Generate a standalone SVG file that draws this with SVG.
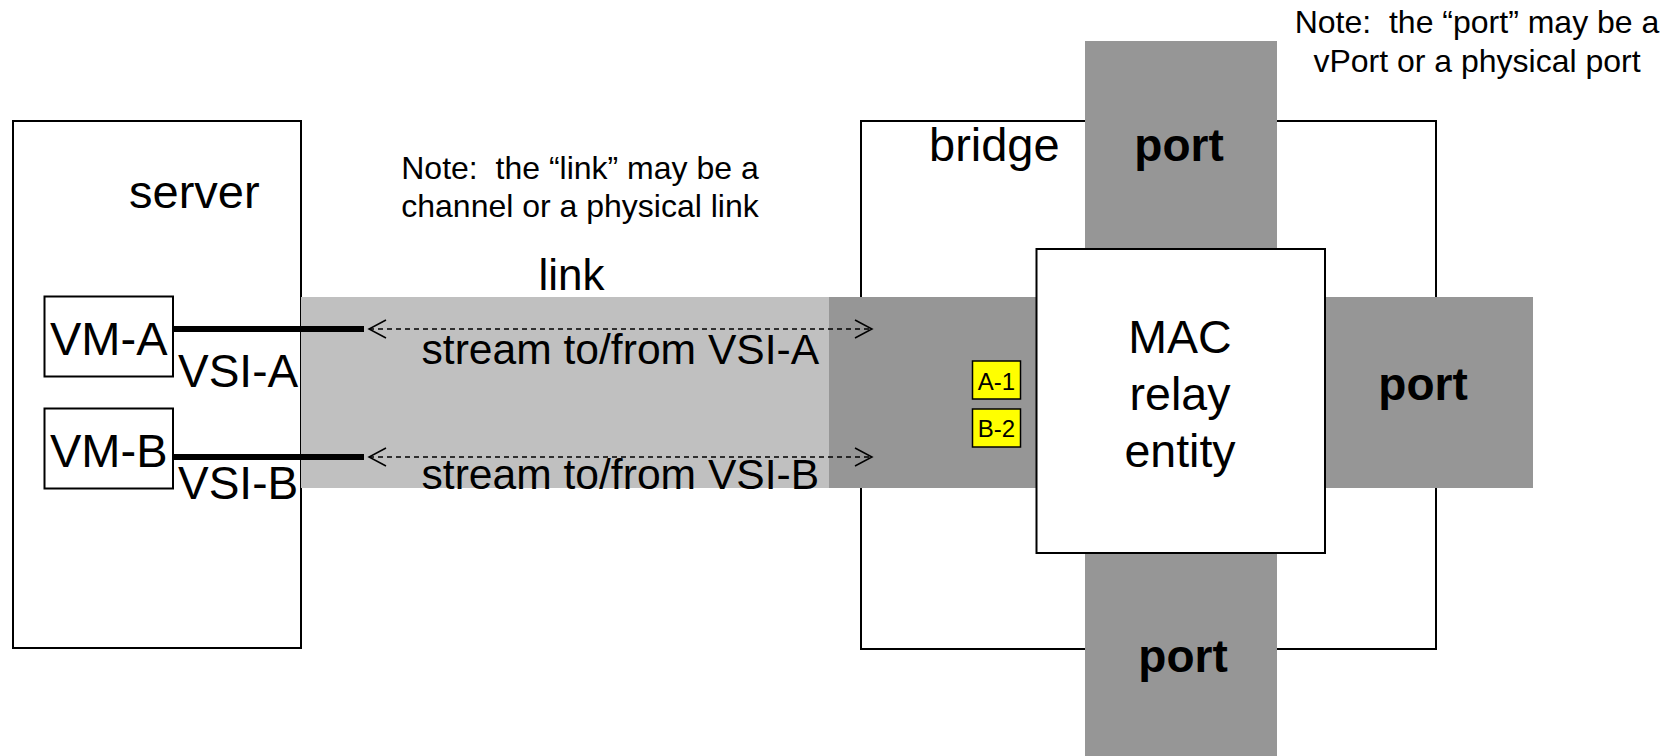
<svg xmlns="http://www.w3.org/2000/svg" width="1679" height="756" viewBox="0 0 1679 756">
<style>
text{font-family:"Liberation Sans",Arial,sans-serif;fill:#000}
.box{fill:#fff;stroke:#000;stroke-width:2}
.port{fill:#969696}
.link{fill:#c0c0c0}
.tag{fill:#ffff00;stroke:#000;stroke-width:1.5}
.thick{stroke:#000;stroke-width:6;fill:none}
.dash{stroke:#000;stroke-width:1.3;stroke-dasharray:5 4;fill:none;marker-start:url(#arr);marker-end:url(#arr)}
.big{font-size:47px}
.note{font-size:32px;text-anchor:middle;white-space:pre}
.pl{font-size:46px;font-weight:bold;text-anchor:middle}
</style>
<defs>
<marker id="arr" markerUnits="userSpaceOnUse" markerWidth="22" markerHeight="22" refX="18" refY="10" orient="auto-start-reverse" overflow="visible">
<path d="M1,1 L18,10 L1,19" fill="none" stroke="#000" stroke-width="1.5" stroke-dasharray="none"/>
</marker>
</defs>
<rect width="1679" height="756" fill="#fff"/>

<g id="server">
<rect class="box" x="13" y="121" width="288" height="527"/>
<text class="big" x="129" y="208">server</text>
</g>

<g id="bridge">
<rect class="box" x="861" y="121" width="575" height="528"/>
<text class="big" x="929" y="161">bridge</text>
</g>

<g id="link">
<rect class="link" x="301" y="297" width="528" height="191"/>
<text x="538.5" y="290" font-size="44">link</text>
</g>

<g id="note-link">
<text class="note" x="580" y="179" xml:space="preserve">Note:  the “link” may be a</text>
<text class="note" x="580" y="217">channel or a physical link</text>
</g>

<g id="note-port">
<text class="note" x="1477" y="33" xml:space="preserve">Note:  the “port” may be a</text>
<text class="note" x="1477" y="72">vPort or a physical port</text>
</g>

<g id="port-left">
<rect class="port" x="829" y="297" width="208" height="191"/>
</g>

<g id="port-top">
<rect class="port" x="1085" y="41" width="192" height="208"/>
<text class="pl" x="1179" y="161">port</text>
</g>

<g id="port-right">
<rect class="port" x="1325" y="297" width="208" height="191"/>
<text class="pl" x="1423" y="400">port</text>
</g>

<g id="port-bottom">
<rect class="port" x="1085" y="553" width="192" height="203"/>
<text class="pl" x="1183" y="672">port</text>
</g>

<g id="mac-relay">
<rect class="box" x="1036.5" y="249" width="288.5" height="304"/>
<text x="1180" y="353" font-size="46.5" text-anchor="middle">MAC</text>
<text x="1180" y="410" font-size="46.5" text-anchor="middle">relay</text>
<text x="1180" y="467" font-size="46.5" text-anchor="middle">entity</text>
</g>

<g id="tag-a1">
<rect class="tag" x="972.5" y="361" width="48" height="38"/>
<text x="996.5" y="390" font-size="24" text-anchor="middle">A-1</text>
</g>
<g id="tag-b2">
<rect class="tag" x="972.5" y="409" width="48" height="38"/>
<text x="996.5" y="437" font-size="24" text-anchor="middle">B-2</text>
</g>

<g id="vm-a">
<rect class="box" x="44.5" y="296.5" width="128.5" height="80"/>
<text class="big" x="50" y="355">VM-A</text>
</g>
<g id="vm-b">
<rect class="box" x="44.5" y="408.5" width="128.5" height="80"/>
<text class="big" x="50" y="467">VM-B</text>
</g>

<g id="connectors">
<line class="thick" x1="173" y1="329" x2="364" y2="329"/>
<line class="thick" x1="173" y1="457" x2="364" y2="457"/>
<line class="dash" x1="369" y1="329" x2="872" y2="329"/>
<line class="dash" x1="369" y1="457" x2="872" y2="457"/>
</g>

<g id="labels">
<text x="178" y="387" font-size="46">VSI-A</text>
<text x="178" y="499" font-size="46">VSI-B</text>
<text x="421.5" y="364" font-size="42.6">stream to/from VSI-A</text>
<text x="421.5" y="489" font-size="42.6">stream to/from VSI-B</text>
</g>
</svg>
